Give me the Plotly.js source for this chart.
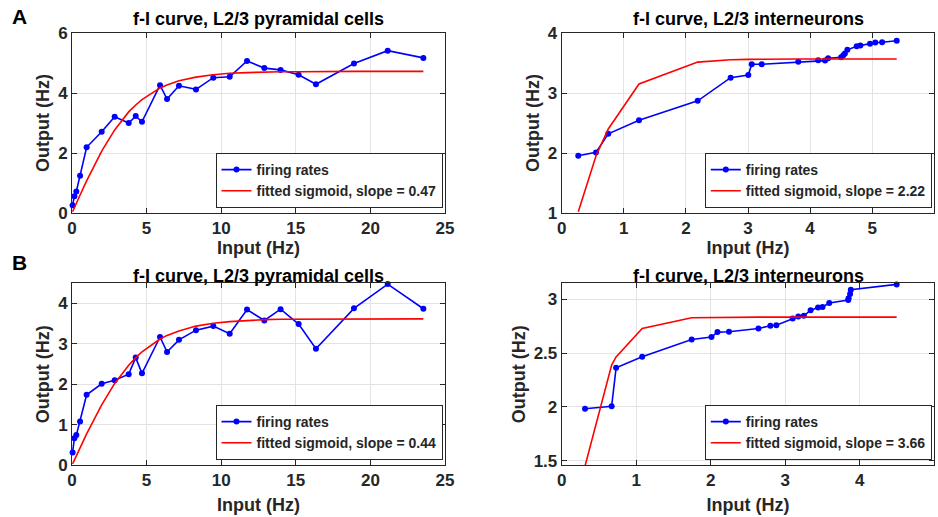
<!DOCTYPE html>
<html>
<head>
<meta charset="utf-8">
<script src="https://cdn.plot.ly/plotly-3.0.1.min.js"></script>
<style>html,body{margin:0;padding:0;background:#fff;}#chart{width:938px;height:517px;}</style>
</head>
<body>
<div id="chart"></div>
<script>
// ---- Data ----
const pyrInput = [0.04,0.16,0.29,0.54,0.98,1.99,2.86,3.80,4.27,4.69,5.90,6.37,7.17,8.31,9.47,10.57,11.73,12.89,13.98,15.19,16.35,18.90,21.16,23.55];
const pyrRateA = [0.26,0.56,0.72,1.24,2.19,2.71,3.21,3.00,3.23,3.04,4.26,3.80,4.24,4.12,4.51,4.54,5.07,4.83,4.77,4.61,4.29,4.98,5.41,5.17];
const pyrFitA  = [0.04,0.18,0.32,0.60,1.07,2.06,2.77,3.37,3.60,3.78,4.17,4.27,4.41,4.53,4.61,4.66,4.68,4.70,4.71,4.71,4.72,4.72,4.72,4.72];
const pyrRateB = [0.31,0.66,0.74,1.08,1.74,2.01,2.10,2.25,2.66,2.27,3.17,2.80,3.10,3.34,3.44,3.25,3.85,3.58,3.86,3.49,2.88,3.88,4.48,3.87];
const pyrFitB  = [0.03,0.13,0.23,0.43,0.77,1.49,2.02,2.47,2.66,2.80,3.12,3.21,3.32,3.44,3.51,3.55,3.58,3.60,3.61,3.61,3.62,3.62,3.62,3.62];

const intInputA = [0.267,0.552,0.75,1.245,2.19,2.72,3.005,3.06,3.22,3.81,4.13,4.24,4.29,4.50,4.535,4.56,4.60,4.75,4.81,4.965,5.05,5.16,5.395];
const intRateA  = [1.955,2.01,2.32,2.545,2.87,3.255,3.30,3.48,3.48,3.52,3.545,3.54,3.58,3.595,3.63,3.66,3.72,3.78,3.79,3.82,3.84,3.845,3.87];
const intFitA   = [1.02,1.95,2.40,3.15,3.515,3.555,3.56,3.562,3.563,3.566,3.567,3.567,3.567,3.567,3.567,3.567,3.567,3.567,3.567,3.567,3.567,3.567,3.567];

const intInputB = [0.313,0.67,0.73,1.08,1.744,2.01,2.09,2.245,2.64,2.80,2.88,3.10,3.175,3.25,3.34,3.44,3.50,3.59,3.845,3.85,3.87,3.88,4.495];
const intRateB  = [1.983,2.006,2.364,2.467,2.628,2.65,2.696,2.70,2.73,2.755,2.76,2.823,2.842,2.848,2.90,2.925,2.93,2.966,2.994,3.01,3.05,3.09,3.14];
const intFitB   = [1.45,2.39,2.465,2.73,2.83,2.833,2.834,2.835,2.835,2.835,2.835,2.835,2.835,2.835,2.835,2.835,2.835,2.835,2.835,2.835,2.835,2.835,2.835];

const slopes = ['0.47','2.22','0.44','3.66'];
const titles = ['f-I curve, L2/3 pyramidal cells','f-I curve, L2/3 interneurons','f-I curve, L2/3 pyramidal cells','f-I curve, L2/3 interneurons'];
const panelLabels = ['A','B'];

// ---- Layout geometry (pixels) ----
const W = 938, H = 517;
const colX = [[72,445],[561.7,934.3]];
const rowY = [[33,213],[283.3,465]];
const px = v => v / W;
const py = v => 1 - v / H;

const TXT = '#262626';
const FONT = 'Liberation Sans, Arial, sans-serif';

function axisBase(extra){
  return Object.assign({
    showline:true, mirror:'ticks', linecolor:TXT, linewidth:1,
    ticks:'inside', ticklen:5, tickwidth:1, tickcolor:TXT,
    showgrid:true, gridcolor:'#e3e3e3', gridwidth:1,
    zeroline:false, fixedrange:true,
    tickfont:{family:FONT, size:17, color:TXT, weight:'bold'}
  }, extra);
}

const blueStyle = {mode:'lines+markers', line:{color:'#0000ff', width:1.6}, marker:{color:'#0000ff', size:6}, cliponaxis:false, name:'firing rates'};
const redStyle = {mode:'lines', line:{color:'#ff0000', width:1.6}};

const sets = [
  {x:pyrInput, y:pyrRateA, f:pyrFitA},
  {x:intInputA, y:intRateA, f:intFitA},
  {x:pyrInput, y:pyrRateB, f:pyrFitB},
  {x:intInputB, y:intRateB, f:intFitB}
];

const data = [];
const layout = {
  width:W, height:H, margin:{l:0,r:0,t:0,b:0},
  paper_bgcolor:'#fff', plot_bgcolor:'#fff',
  font:{family:FONT, color:TXT, weight:'bold'},
  showlegend:true, annotations:[]
};

const xRanges = [[0,25],[0,6],[0,25],[0,5]];
const yRanges = [[0,6],[1,4],[0,4.5],[1.46,3.15]];
const xTicks = [[0,5,10,15,20,25],[0,1,2,3,4,5,6],[0,5,10,15,20,25],[0,1,2,3,4,5]];
const yTicks = [[0,2,4,6],[1,2,3,4],[0,1,2,3,4],[1.5,2,2.5,3]];
const xStand = [0,0,8,8];
const titleFont = {family:FONT, size:18, color:TXT, weight:'bold'};

sets.forEach((s,i)=>{
  const r = Math.floor(i/2), c = i%2;
  const n = i+1;
  const xa = n===1 ? 'x' : 'x'+n;
  const ya = n===1 ? 'y' : 'y'+n;
  const lg = n===1 ? 'legend' : 'legend'+n;
  data.push(Object.assign({}, blueStyle, {x:s.x, y:s.y, xaxis:xa, yaxis:ya, legend:lg}));
  data.push(Object.assign({}, redStyle, {x:s.x, y:s.f, xaxis:xa, yaxis:ya, legend:lg, name:'fitted sigmoid, slope = '+slopes[i]}));
  const xd = [px(colX[c][0]), px(colX[c][1])];
  const yd = [py(rowY[r][1]), py(rowY[r][0])];
  layout['xaxis'+(n===1?'':n)] = axisBase({domain:xd, anchor:ya, range:xRanges[i], tickvals:xTicks[i],
    title:{text:'Input (Hz)', standoff:xStand[i], font:titleFont}});
  layout['yaxis'+(n===1?'':n)] = axisBase({domain:yd, anchor:xa, range:yRanges[i], tickvals:yTicks[i],
    title:{text:'Output (Hz)', standoff:3, font:titleFont}});
  layout[lg] = {
    x: px(colX[c][1]-2.5), xanchor:'right', xref:'paper',
    y: py(rowY[r][1]-5), yanchor:'bottom', yref:'paper',
    bgcolor:'#fff', bordercolor:TXT, borderwidth:1,
    font:{family:FONT, size:14, color:TXT, weight:'bold'},
    itemwidth:30, tracegroupgap:0, traceorder:'normal'
  };
  layout.annotations.push({
    text:titles[i], xref:'paper', yref:'paper', x:px((colX[c][0]+colX[c][1])/2), y:py(r===0?19:276),
    xanchor:'center', yanchor:'middle', showarrow:false,
    font:{family:FONT, size:18, color:'#000', weight:'bold'}
  });
});
panelLabels.forEach((t,k)=>{
  layout.annotations.push({text:t, xref:'paper', yref:'paper', x:px(19), y:py(k===0?16:262),
    xanchor:'center', yanchor:'middle', showarrow:false, font:{family:FONT, size:21, color:'#000', weight:'bold'}});
});

Plotly.newPlot('chart', data, layout, {displayModeBar:false, staticPlot:true});
</script>
</body>
</html>
